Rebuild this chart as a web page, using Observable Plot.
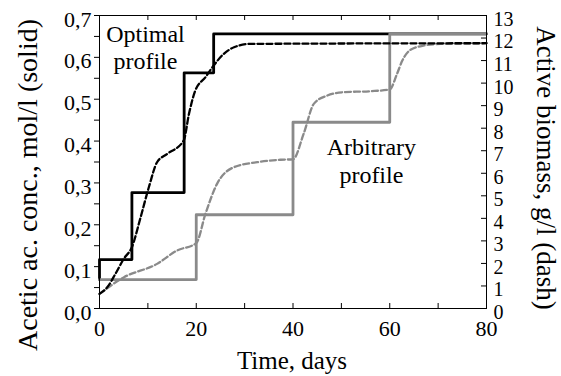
<!DOCTYPE html>
<html>
<head>
<meta charset="utf-8">
<script src="https://cdn.jsdelivr.net/npm/d3@7"></script>
<script src="https://cdn.jsdelivr.net/npm/@observablehq/plot@0.6"></script>
<style>
  body { margin: 0; background: #fff; }
  #chart svg { display: block; }
</style>
</head>
<body>
<div id="chart"></div>
<script>
// Acetic acid feed profiles (step functions, mol/l) and resulting active biomass (g/l)
const optimalStepDays = [0, 0, 6.7, 17.5, 23.6, 80];
const optimalStepConc = [0.069, 0.117, 0.277, 0.563, 0.656, 0.656];

const arbitraryStepDays = [0, 20, 40, 60, 80];
const arbitraryStepConc = [0.069, 0.224, 0.445, 0.656, 0.656];

const optimalBiomassDays = [0, 1.6, 3.3, 5.0, 6.7, 8.5, 10.2, 11.9, 14.0, 17.4, 18.5, 19.8, 21.9, 23.6, 25.7, 27.8, 31.2, 80];
const optimalBiomass     = [0.65, 0.94, 1.54, 2.2, 2.72, 4.05, 5.38, 6.49, 6.86, 7.45, 8.64, 9.67, 10.26, 10.78, 11.3, 11.59, 11.74, 11.77];

const arbitraryBiomassDays = [0, 5.0, 11.9, 16.0, 20.0, 21.9, 24.3, 27.8, 32.6, 37.4, 40.0, 42.2, 44.3, 47.1, 50.5, 56.0, 60.0, 61.5, 62.6, 64.3, 67.1, 70.5, 80];
const arbitraryBiomass     = [0.65, 1.38, 1.98, 2.57, 2.9, 4.2, 5.53, 6.27, 6.49, 6.6, 6.62, 7.75, 9.08, 9.45, 9.6, 9.64, 9.72, 10.41, 11.0, 11.48, 11.67, 11.74, 11.77];

// Axis ticks
const timeTicks = [0, 20, 40, 60, 80];
const timeMinorTicks = [0, 10, 20, 30, 40, 50, 60, 70, 80];
const concTicks = [0, 0.1, 0.2, 0.3, 0.4, 0.5, 0.6, 0.7];
const concMinorTicks = [0, 0.05, 0.1, 0.15, 0.2, 0.25, 0.3, 0.35, 0.4, 0.45, 0.5, 0.55, 0.6, 0.65, 0.7];
const biomassTicks = [0, 1, 2, 3, 4, 5, 6, 7, 8, 9, 10, 11, 12, 13];

// In-plot annotations
const annotations = [
  {day: 9.5, conc: 0.573, text: "Optimal\nprofile"},
  {day: 56.2, conc: 0.301, text: "Arbitrary\nprofile"}
];

const concMax = 0.7;
const biomassMax = 13;
const toConc = (b) => b * concMax / biomassMax;

const zip = (xs, ys) => xs.map((x, i) => ({x, y: ys[i]}));
const optimalStep = zip(optimalStepDays, optimalStepConc);
const arbitraryStep = zip(arbitraryStepDays, arbitraryStepConc);
const optimalBio = zip(optimalBiomassDays, optimalBiomass.map(toConc));
const arbitraryBio = zip(arbitraryBiomassDays, arbitraryBiomass.map(toConc));

const grey = "#8a8a8a";
const serif = "Liberation Serif";

const chart = Plot.plot({
  width: 561,
  height: 376,
  marginTop: 15,
  marginBottom: 68,
  marginLeft: 99,
  marginRight: 75,
  x: {domain: [0, 80]},
  y: {domain: [0, concMax]},
  style: {fontSize: "22px", color: "#000", background: "#fff"},
  marks: [
    Plot.line(optimalStep, {x: "x", y: "y", stroke: "#000", strokeWidth: 2.8, curve: "step-after"}),
    Plot.line(arbitraryStep, {x: "x", y: "y", stroke: grey, strokeWidth: 2.8, curve: "step-after"}),
    Plot.line(arbitraryBio, {x: "x", y: "y", stroke: grey, strokeWidth: 2.3, strokeDasharray: "6,3", curve: "monotone-x"}),
    Plot.line(optimalBio, {x: "x", y: "y", stroke: "#000", strokeWidth: 2.3, strokeDasharray: "6,3", curve: "monotone-x"}),
    Plot.frame({stroke: "#000", strokeWidth: 1}),
    // tick marks: left outward, right/top/bottom inward
    Plot.ruleY(concMinorTicks, {y: (d) => d, x1: 0, x2: 0, insetLeft: -5, stroke: "#000"}),
    Plot.ruleY(biomassTicks.map(toConc), {y: (d) => d, x1: 80, x2: 80, insetLeft: -5, stroke: "#000"}),
    Plot.ruleX(timeMinorTicks, {x: (d) => d, y1: 0, y2: 0, insetTop: -5, stroke: "#000"}),
    Plot.ruleX(timeMinorTicks, {x: (d) => d, y1: concMax, y2: concMax, insetBottom: -5, stroke: "#000"}),
    Plot.axisX(timeTicks, {tickSize: 0, tickPadding: 12, label: null}),
    Plot.axisY(concTicks, {anchor: "left", tickSize: 0, tickPadding: 8, dy: 4, label: null,
      tickFormat: (d) => d.toFixed(1).replace(".", ",")}),
    Plot.axisY(biomassTicks.map(toConc), {anchor: "right", tickSize: 0, tickPadding: 7, dy: 4, label: null,
      fontSize: 20, tickFormat: (d) => String(Math.round(d * biomassMax / concMax))}),
    Plot.text(annotations, {x: "day", y: "conc", text: "text", fontSize: 24, lineAnchor: "bottom",
      lineHeight: 1.13, textAnchor: "middle", fill: "#000"})
  ]
});

const svg = d3.select(chart);
const title = (transform, size, label) => svg.append("text")
  .attr("transform", transform)
  .attr("text-anchor", "middle")
  .attr("font-size", size)
  .attr("fill", "#000")
  .text(label);
title("translate(36.5,185) rotate(-90)", 28, "Acetic ac. conc., mol/l (solid)");
title("translate(536.5,168) rotate(90)", 27, "Active biomass, g/l (dash)");
title("translate(292,369)", 25, "Time, days");

// one serif family for every label in the chart
svg.attr("font-family", serif).style("font-family", serif);
svg.selectAll("g, text").attr("font-family", serif).style("font-family", serif);

document.getElementById("chart").appendChild(chart);
</script>
</body>
</html>
